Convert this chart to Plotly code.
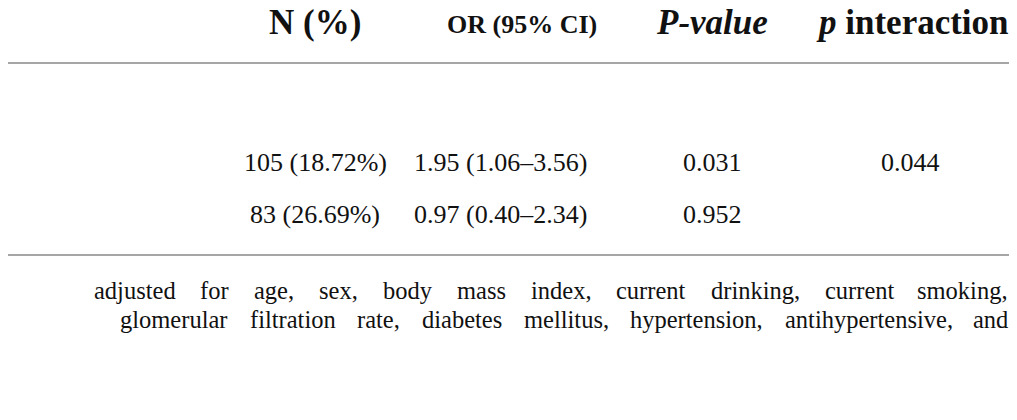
import plotly.graph_objects as go

# table content
headers = ["Variables", "N (%)", "OR (95% CI)", "<i>P-value</i>", "<i>p</i> interaction"]
group_label = "LDL-C, mmol/L"
subgroups = ["&lt; 3.4", "≥ 3.4"]
n_pct = ["105 (18.72%)", "83 (26.69%)"]
or_ci = ["1.95 (1.06–3.56)", "0.97 (0.40–2.34)"]
p_values = ["0.031", "0.952"]
p_interaction = ["0.044", ""]
footnote_lines = [
    "Model adjusted for age, sex, body mass index, current drinking, current smoking,",
    "estimated glomerular filtration rate, diabetes mellitus, hypertension, antihypertensive, and",
    "hypoglycemic drugs.",
    "OR, odds ratio; CI, confidence interval; LDL-C, low-density lipoprotein cholesterol.",
]
justified = [True, True, False, False]

W, H = 1017, 420
PAD = 8  # page body margin, so coordinates below are window pixels
SERIF = "Liberation Serif"

# Times-Roman advance widths (per 1000 em), used to justify the footnote
TIMES = dict(zip("abcdefghijklmnopqrstuvwxyz",
                 [444, 500, 444, 500, 444, 333, 500, 500, 278, 278, 500, 278, 778,
                  500, 500, 500, 500, 333, 389, 278, 500, 500, 722, 500, 500, 444]))
TIMES.update({",": 250, ".": 250, "-": 333, ";": 278, " ": 250, "M": 889, "O": 722,
              "R": 667, "C": 667, "I": 333, "L": 611, "D": 722})


def text_width(s, size):
    return sum(TIMES.get(ch, 500) for ch in s) * size / 1000


ann = []


def add(text, x, y, size, anchor="center", bold=False):
    if bold:
        text = "<b>" + text + "</b>"
    ann.append(dict(text=text, x=x, y=y, xref="x", yref="y",
                    xanchor=anchor, showarrow=False,
                    font=dict(family=SERIF, size=size, color="#111111")))


# header
add(headers[0], 3, 22, 35, "left", True)
add(headers[1], 315, 22, 35, "center", True)
add(headers[2], 522, 24, 26, "center", True)
add(headers[3], 712, 22, 35, "center", True)
add(headers[4], 1011, 22, 35, "right", True)

# body
add(group_label, 3, 110, 28, "left", True)
row_y = [162, 214]
for i, y in enumerate(row_y):
    add(subgroups[i], 5, y, 26, "left")
    add(n_pct[i], 315, y, 26)
    add(or_ci[i], 500, y, 26)
    add(p_values[i], 712, y, 26)
    if p_interaction[i]:
        add(p_interaction[i], 910, y, 26)

# footnote, first two lines justified word by word
fn_size = 24.5
fn_y = [290, 319, 347, 376]
left, right = 5, 1010
for line, y, just in zip(footnote_lines, fn_y, justified):
    if not just:
        add(line, left, y, fn_size, "left")
        continue
    words = line.split(" ")
    widths = [text_width(w, fn_size) for w in words]
    gap = (right - left - sum(widths)) / (len(words) - 1)
    x = left
    for k, (w, wd) in enumerate(zip(words, widths)):
        if k == 0:
            add(w, left, y, fn_size, "left")
        elif k == len(words) - 1:
            add(w, right, y, fn_size, "right")
        else:
            add(w, x + wd / 2, y, fn_size, "center")
        x += wd + gap

# horizontal rules
rules = go.Scatter(x=[5, 1010, None, 5, 1010], y=[63, 63, None, 255, 255],
                   mode="lines", line=dict(color="#a6a6a6", width=2),
                   hoverinfo="skip", showlegend=False)

fig = go.Figure(data=[rules])
fig.update_layout(
    width=W, height=H,
    margin=dict(l=0, r=0, t=0, b=0),
    plot_bgcolor="white",
    annotations=ann,
    xaxis=dict(range=[PAD, W + PAD], visible=False),
    yaxis=dict(range=[H + PAD, PAD], visible=False),
)
fig.write_html("out.html")
